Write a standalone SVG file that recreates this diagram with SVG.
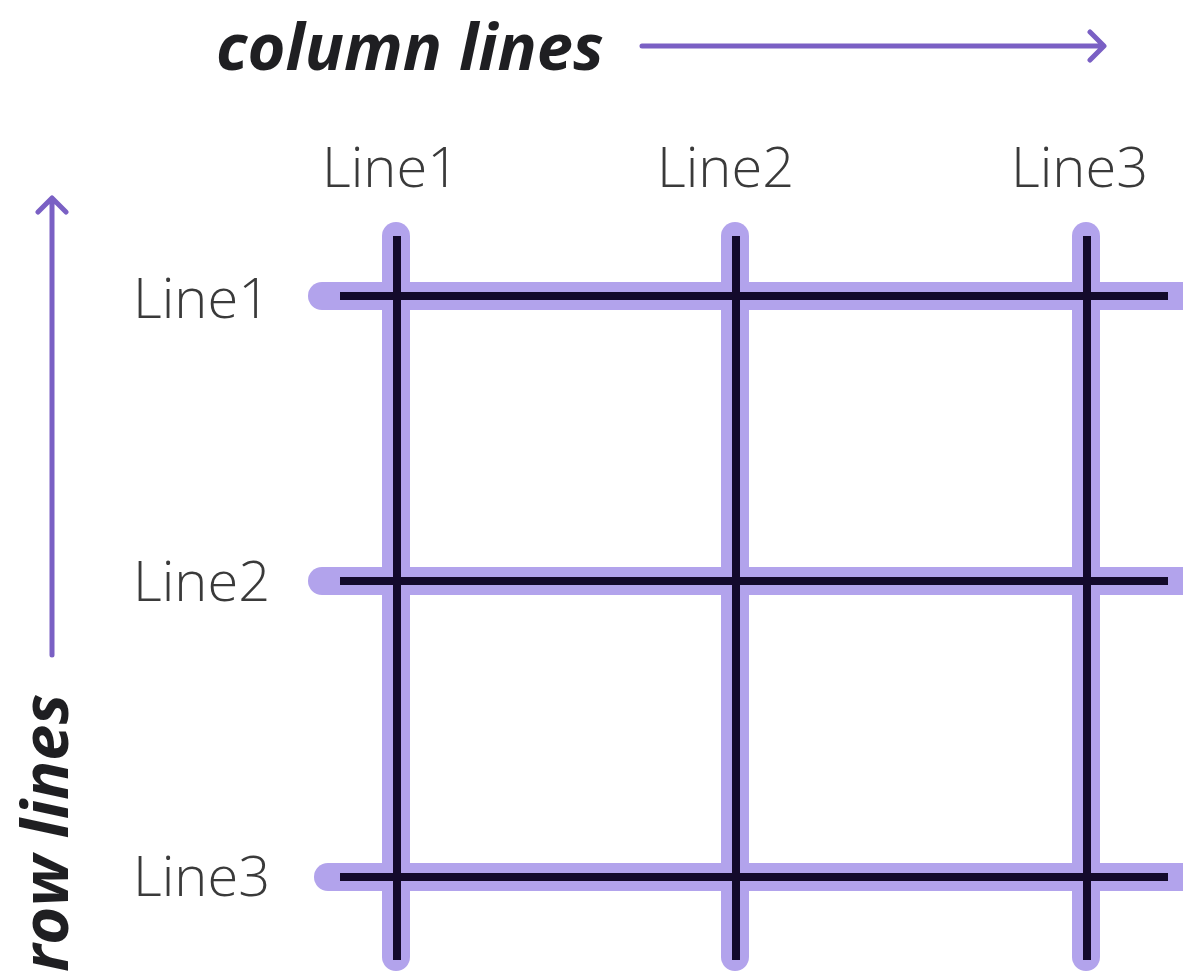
<svg xmlns="http://www.w3.org/2000/svg" width="1183" height="973" viewBox="0 0 1183 973">
<style>
.title{font-family:"Open Sans","Liberation Sans",sans-serif;font-weight:700;font-style:italic;font-size:65px;fill:#1f1f22}
.lbl{font-family:"Open Sans","Liberation Sans",sans-serif;font-weight:300;font-size:56px;fill:#3a3a3a}
.band{stroke:#b2a3ec;stroke-width:28;stroke-linecap:round;fill:none}
.core{stroke:#130a2b;stroke-width:8;stroke-linecap:butt;fill:none}
.arrow{stroke:#7a60c4;stroke-width:5;fill:none;stroke-linecap:round;stroke-linejoin:round}
</style>
<rect width="1183" height="973" fill="#ffffff"/>
<g id="column-lines-title">
<text class="title" x="216" y="70">column lines</text>
<path class="arrow" d="M642 46 H1103 M1090 32 L1104 46 L1090 60"/>
</g>
<g id="row-lines-title">
<text class="title" transform="translate(68 972) rotate(-90)" x="0" y="0">row lines</text>
<path class="arrow" d="M52 655 V198 M38 212 L52 198 L66 212"/>
</g>
<g id="grid-bands">
<line class="band" x1="396" y1="236" x2="396" y2="957"/>
<line class="band" x1="735" y1="236" x2="735" y2="957"/>
<line class="band" x1="1086" y1="236" x2="1086" y2="957"/>
<line class="band" x1="322" y1="296" x2="1190" y2="296"/>
<line class="band" x1="322" y1="581" x2="1190" y2="581"/>
<line class="band" x1="328" y1="877" x2="1190" y2="877"/>
</g>
<g id="connectors">
<line class="core" x1="397" y1="236" x2="397" y2="960"/>
<line class="core" x1="736" y1="236" x2="736" y2="960"/>
<line class="core" x1="1087" y1="236" x2="1087" y2="960"/>
<line class="core" x1="340" y1="296" x2="1168" y2="296"/>
<line class="core" x1="340" y1="581" x2="1168" y2="581"/>
<line class="core" x1="340" y1="877" x2="1168" y2="877"/>
</g>
<g id="col-label-1"><text class="lbl" x="322" y="187">Line1</text></g>
<g id="col-label-2"><text class="lbl" x="657" y="187">Line2</text></g>
<g id="col-label-3"><text class="lbl" x="1011" y="187">Line3</text></g>
<g id="row-label-1"><text class="lbl" x="133" y="318">Line1</text></g>
<g id="row-label-2"><text class="lbl" x="133" y="601">Line2</text></g>
<g id="row-label-3"><text class="lbl" x="133" y="896">Line3</text></g>
</svg>
